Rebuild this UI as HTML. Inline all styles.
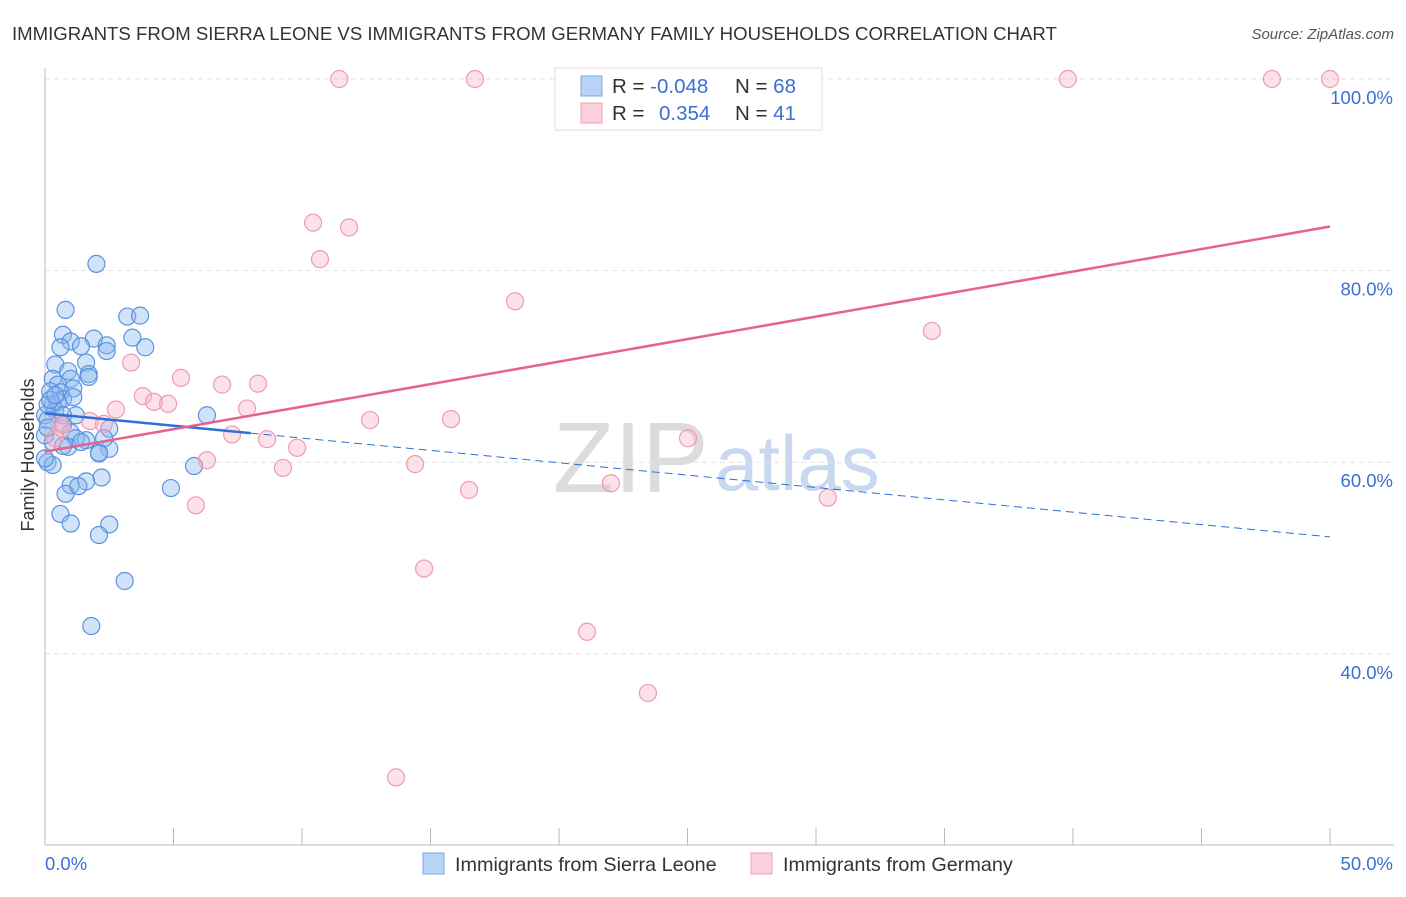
<!DOCTYPE html>
<html><head><meta charset="utf-8"><style>
body{margin:0;background:#fff;font-family:"Liberation Sans",sans-serif;}
svg text{font-family:"Liberation Sans",sans-serif;}
</style></head><body>
<svg id="chart" width="1406" height="892" xmlns="http://www.w3.org/2000/svg">
<text x="12" y="40" font-size="18.6" fill="#333">IMMIGRANTS FROM SIERRA LEONE VS IMMIGRANTS FROM GERMANY FAMILY HOUSEHOLDS CORRELATION CHART</text>
<text x="1394" y="39" font-size="15" fill="#555" font-style="italic" text-anchor="end">Source: ZipAtlas.com</text>
<text x="553" y="492" font-size="100" fill="#dcdcdc" font-family="Liberation Serif">ZIP</text>
<text x="715" y="490" font-size="78" fill="#c8d8ee">atlas</text>
<g id="grid"></g>
<g id="axes"></g>
<g id="marks"></g>
<text transform="translate(34,455) rotate(-90)" font-size="18" fill="#333" text-anchor="middle">Family Households</text>
<g>
<rect x="555" y="68" width="267" height="62" fill="#fff" stroke="#ddd"/>
<rect x="581" y="76" width="21" height="20" fill="#b8d3f5" stroke="#7aa8e6"/>
<rect x="581" y="103" width="21" height="20" fill="#fbd0dd" stroke="#f0a0b8"/>
<text x="612" y="93" font-size="20.5" fill="#333">R = <tspan fill="#3b6fd4">-0.048</tspan></text>
<text x="735" y="93" font-size="20.5" fill="#333">N = <tspan fill="#3b6fd4">68</tspan></text>
<text x="612" y="120" font-size="20.5" fill="#333">R = </text>
<text x="659" y="120" font-size="20.5" fill="#3b6fd4">0.354</text>
<text x="735" y="120" font-size="20.5" fill="#333">N = <tspan fill="#3b6fd4"> 41</tspan></text>
</g>
<g>
<rect x="423" y="853" width="21" height="21" fill="#b8d3f5" stroke="#7aa8e6"/>
<text x="455" y="871" font-size="19.8" fill="#333">Immigrants from Sierra Leone</text>
<rect x="751" y="853" width="21" height="21" fill="#fbd0dd" stroke="#f0a0b8"/>
<text x="783" y="871" font-size="19.8" fill="#333">Immigrants from Germany</text>
</g>
</svg>
<script>
const xTicksVals=[0,5,10,15,20,25,30,35,40,45,50];
const yTicks=[40,60,80,100];
const yTickLabels=["40.0%","60.0%","80.0%","100.0%"];
const blueX=[2,0.8,3.2,3.7,0.7,3.4,3.9,1,1.9,1.4,2.4,2.4,0.6,1.6,0.4,1.7,0.9,0.3,1,0.5,1.1,0.2,0.6,0.7,0.3,1.1,0.4,0,1.2,0.1,0.7,1,2.5,1.6,1.2,0.9,2.5,2.1,0.3,0.1,0.3,0.7,6.3,5.8,4.9,2.2,1.6,1,0.8,1.3,0.6,1,2.5,2.1,3.1,1.8,0,0.1,0.5,1.4,0.7,2.1,1.7,2.3,0.2,0.4,0.1,0];
const blueY=[80.7,75.9,75.2,75.3,73.3,73,72,72.6,72.9,72.1,72.2,71.6,72,70.4,70.2,69.2,69.5,68.7,68.7,68.1,67.7,67.4,67.3,66.6,66,66.8,65.4,64.9,64.9,64.4,63.9,63.1,63.5,62.3,62.5,61.6,61.4,61,62.1,60,59.7,61.7,64.9,59.6,57.3,58.4,58,57.6,56.7,57.5,54.6,53.6,53.5,52.4,47.6,42.9,62.8,66,66.3,62.1,64.9,60.9,68.9,62.5,66.5,67,63.6,60.4];
const pinkX=[11.45,16.73,39.8,47.74,50,10.43,11.83,10.7,18.29,34.51,3.35,5.29,6.89,8.29,3.81,4.24,4.79,2.76,7.86,12.65,15.8,7.28,1.75,8.64,9.81,6.3,9.26,14.4,16.5,22.02,25.02,30.46,5.87,14.75,21.09,23.46,13.66,0.58,0.66,2.29,0.39];
const pinkY=[100,100,100,100,100,85,84.5,81.2,76.8,73.7,70.4,68.8,68.1,68.2,66.9,66.3,66.1,65.5,65.6,64.4,64.5,62.9,64.3,62.4,61.5,60.2,59.4,59.8,57.1,57.8,62.5,56.3,55.5,48.9,42.3,35.9,27.1,64,63.5,64,62.5];
const blueTrend=[65.1,-0.258];
const pinkTrend=[61.1,0.47];
const NS="http://www.w3.org/2000/svg";
const X=v=>45+v/50*1285;
const Y=v=>79+(100-v)*9.58;
function mk(t,a,p){const e=document.createElementNS(NS,t);for(const k in a)e.setAttribute(k,a[k]);p.appendChild(e);return e;}
const grid=document.getElementById('grid'),axes=document.getElementById('axes'),marks=document.getElementById('marks');
yTicks.forEach((v,i)=>{
 const l=mk('line',{x1:45,x2:1394,y1:Y(v),y2:Y(v),stroke:'#e2e2e2','stroke-dasharray':'5,4'},grid);
 
 
 const t=mk('text',{x:1393,y:Y(v)+25,'font-size':18.5,fill:'#3b6fd4','text-anchor':'end'},axes);
 t.textContent=yTickLabels[i];
 
 
});
const xa=mk('line',{x1:45,x2:1394,y1:845,y2:845,stroke:'#bbb'},axes);


const ya=mk('line',{x1:45,x2:45,y1:68,y2:845,stroke:'#bbb'},axes);


xTicksVals.forEach(v=>{const t=mk('line',{x1:X(v),x2:X(v),y1:828,y2:845,stroke:'#bbb'},axes);
 
 });
const xl0=mk('text',{x:45,y:870,'font-size':18.5,fill:'#3b6fd4'},axes);xl0.textContent='0.0%';


const xl1=mk('text',{x:1393,y:870,'font-size':18.5,fill:'#3b6fd4','text-anchor':'end'},axes);xl1.textContent='50.0%';


blueX.forEach((x,i)=>{const c=mk('circle',{cx:X(x),cy:Y(blueY[i]),r:8.5,fill:'rgba(140,185,240,0.4)',stroke:'#5b93e0','stroke-width':1.2},marks);
 
 });
pinkX.forEach((x,i)=>{const c=mk('circle',{cx:X(x),cy:Y(pinkY[i]),r:8.5,fill:'rgba(248,180,200,0.4)',stroke:'#ee9ab4','stroke-width':1.2},marks);
 
 });
const [ba,bb]=blueTrend;
const bl=mk('line',{x1:X(0),y1:Y(ba),x2:X(8),y2:Y(ba+bb*8),stroke:'#2f6fd6','stroke-width':2.5},marks);


const bd=mk('line',{x1:X(8),y1:Y(ba+bb*8),x2:X(50),y2:Y(ba+bb*50),stroke:'#2f6fd6','stroke-width':1,'stroke-dasharray':'8,5'},marks);


const [pa,pb]=pinkTrend;
const pl=mk('line',{x1:X(0),y1:Y(pa),x2:X(50),y2:Y(pa+pb*50),stroke:'#e8628e','stroke-width':2.5},marks);


</script>
</body></html>
